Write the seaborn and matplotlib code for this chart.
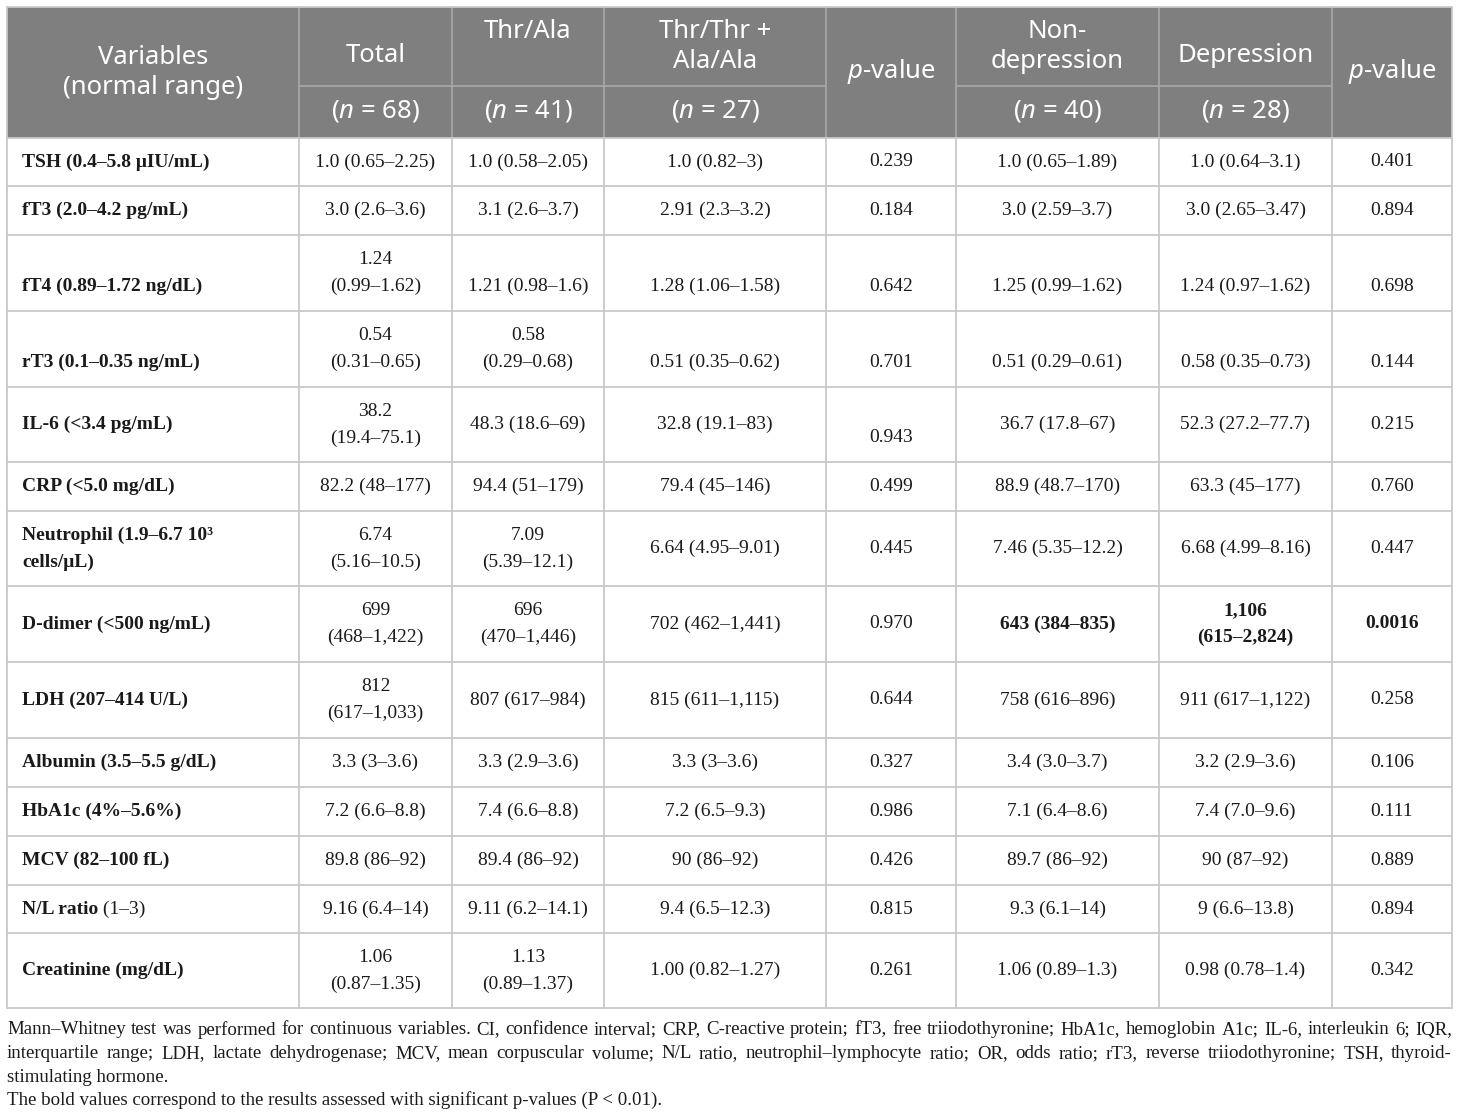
import matplotlib
matplotlib.use("Agg")
import matplotlib.pyplot as plt
import seaborn as sns

# ==========================
#  TABLE DATA
# ==========================
variables = [
    "TSH (0.4–5.8 μIU/mL)", "fT3 (2.0–4.2 pg/mL)", "fT4 (0.89–1.72 ng/dL)",
    "rT3 (0.1–0.35 ng/mL)", "IL-6 (<3.4 pg/mL)", "CRP (<5.0 mg/dL)",
    "Neutrophil (1.9–6.7 10³\ncells/μL)", "D-dimer (<500 ng/mL)", "LDH (207–414 U/L)",
    "Albumin (3.5–5.5 g/dL)", "HbA1c (4%–5.6%)", "MCV (82–100 fL)",
    "N/L ratio", "Creatinine (mg/dL)",
]
total = [
    "1.0 (0.65–2.25)", "3.0 (2.6–3.6)", "1.24\n(0.99–1.62)", "0.54\n(0.31–0.65)",
    "38.2\n(19.4–75.1)", "82.2 (48–177)", "6.74\n(5.16–10.5)", "699\n(468–1,422)",
    "812\n(617–1,033)", "3.3 (3–3.6)", "7.2 (6.6–8.8)", "89.8 (86–92)",
    "9.16 (6.4–14)", "1.06\n(0.87–1.35)",
]
thr_ala = [
    "1.0 (0.58–2.05)", "3.1 (2.6–3.7)", "1.21 (0.98–1.6)", "0.58\n(0.29–0.68)",
    "48.3 (18.6–69)", "94.4 (51–179)", "7.09\n(5.39–12.1)", "696\n(470–1,446)",
    "807 (617–984)", "3.3 (2.9–3.6)", "7.4 (6.6–8.8)", "89.4 (86–92)",
    "9.11 (6.2–14.1)", "1.13\n(0.89–1.37)",
]
thr_thr_ala_ala = [
    "1.0 (0.82–3)", "2.91 (2.3–3.2)", "1.28 (1.06–1.58)", "0.51 (0.35–0.62)",
    "32.8 (19.1–83)", "79.4 (45–146)", "6.64 (4.95–9.01)", "702 (462–1,441)",
    "815 (611–1,115)", "3.3 (3–3.6)", "7.2 (6.5–9.3)", "90 (86–92)",
    "9.4 (6.5–12.3)", "1.00 (0.82–1.27)",
]
p_genotype = [
    "0.239", "0.184", "0.642", "0.701", "0.943", "0.499", "0.445",
    "0.970", "0.644", "0.327", "0.986", "0.426", "0.815", "0.261",
]
non_depression = [
    "1.0 (0.65–1.89)", "3.0 (2.59–3.7)", "1.25 (0.99–1.62)", "0.51 (0.29–0.61)",
    "36.7 (17.8–67)", "88.9 (48.7–170)", "7.46 (5.35–12.2)", "643 (384–835)",
    "758 (616–896)", "3.4 (3.0–3.7)", "7.1 (6.4–8.6)", "89.7 (86–92)",
    "9.3 (6.1–14)", "1.06 (0.89–1.3)",
]
depression = [
    "1.0 (0.64–3.1)", "3.0 (2.65–3.47)", "1.24 (0.97–1.62)", "0.58 (0.35–0.73)",
    "52.3 (27.2–77.7)", "63.3 (45–177)", "6.68 (4.99–8.16)", "1,106\n(615–2,824)",
    "911 (617–1,122)", "3.2 (2.9–3.6)", "7.4 (7.0–9.6)", "90 (87–92)",
    "9 (6.6–13.8)", "0.98 (0.78–1.4)",
]
p_depression = [
    "0.401", "0.894", "0.698", "0.144", "0.215", "0.760", "0.447",
    "0.0016", "0.258", "0.106", "0.111", "0.889", "0.894", "0.342",
]
nl_range = " (1–3)"
group_headers = ["Total", "Thr/Ala", "Thr/Thr +\nAla/Ala", None, "Non-\ndepression", "Depression", None]
group_n = ["68", "41", "27", None, "40", "28", None]

footnote_lines = [
    "Mann–Whitney test was performed for continuous variables. CI, confidence interval; CRP, C-reactive protein; "
    "fT3, free triiodothyronine; HbA1c, hemoglobin A1c; IL-6, interleukin 6; IQR,",
    "interquartile range; LDH, lactate dehydrogenase; MCV, mean corpuscular volume; N/L ratio, "
    "neutrophil–lymphocyte ratio; OR, odds ratio; rT3, reverse triiodothyronine; TSH, thyroid-",
    "stimulating hormone.",
    "The bold values correspond to the results assessed with significant p-values (P < 0.01).",
]

# ==========================
#  LAYOUT / STYLE
# ==========================
sns.set_theme(style="white")
plt.rcParams["font.family"] = ["Liberation Serif", "DejaVu Serif"]
plt.rcParams["mathtext.fontset"] = "custom"
plt.rcParams["mathtext.it"] = "Noto Sans:italic"
plt.rcParams["mathtext.rm"] = "Noto Sans"

SANS = ["Noto Sans", "DejaVu Sans"]
SERIF = ["Liberation Serif", "DejaVu Serif"]
HEAD_BG = "#7f7f7f"
GRID = "#c9c9c9"
TEXT = "#1a1a1a"
BODY_FS = 14.0
HEAD_FS = 18.5
LINE_GAP = 27

col_edges = [7, 299, 452, 604, 826, 956, 1159, 1332, 1452]
row_edges = [138, 186, 235, 311, 387, 462, 511, 586, 662, 738, 787, 836, 885, 933, 1008]
head_top, head_mid = 7, 86

fig = plt.figure(figsize=(14.6, 11.19), dpi=100)
ax = fig.add_axes([0, 0, 1, 1])
ax.set_xlim(0, 1460)
ax.set_ylim(1119, 0)
ax.axis("off")
renderer = fig.canvas.get_renderer()

# header background
ax.fill_between([col_edges[0], col_edges[-1]], head_top, row_edges[0], color=HEAD_BG, lw=0)

# header internal lines
for x in col_edges[1:-1]:
    ax.plot([x, x], [head_top, row_edges[0]], color="#a8a8a8", lw=1.2)
for a, b in [(1, 4), (5, 7)]:
    ax.plot([col_edges[a], col_edges[b]], [head_mid, head_mid], color="#a8a8a8", lw=1.2)

# body grid
for y in row_edges:
    ax.plot([col_edges[0], col_edges[-1]], [y, y], color=GRID, lw=1.3)
for x in col_edges:
    ax.plot([x, x], [row_edges[0], row_edges[-1]], color=GRID, lw=1.3)
ax.plot([col_edges[0], col_edges[-1]], [head_top, head_top], color=GRID, lw=1.3)
ax.plot([col_edges[0]] * 2, [head_top, row_edges[0]], color=GRID, lw=1.3)
ax.plot([col_edges[-1]] * 2, [head_top, row_edges[0]], color=GRID, lw=1.3)


def centre(i):
    return (col_edges[i] + col_edges[i + 1]) / 2


# header text
hkw = dict(color="white", fontsize=HEAD_FS, family=SANS, ha="center", va="center")
ax.text(centre(0), 57, "Variables", **hkw)
ax.text(centre(0), 87, "(normal range)", **hkw)
for j, (name, n) in enumerate(zip(group_headers, group_n)):
    c = centre(j + 1)
    if name is None:
        ax.text(c, 72, "$p$-value", **hkw)
        continue
    lines = name.split("\n")
    if len(lines) == 2:
        ax.text(c, 32, lines[0], **hkw)
        ax.text(c, 61, lines[1], **hkw)
    elif name == "Thr/Ala":
        ax.text(c, 32, name, **hkw)
    else:
        ax.text(c, 55, name, **hkw)
    ax.text(c, 111, "($n$ = %s)" % n, **hkw)

# body text
columns = [total, thr_ala, thr_thr_ala_ala, p_genotype, non_depression, depression, p_depression]
bold_rows = {7: {4, 5, 6}}
low_rows = {2, 3}  # single-line cells sit on the second line


def draw_cell(x, ymid, txt, ha, weight, lower=False):
    lines = txt.split("\n")
    if len(lines) == 2:
        ys = [ymid - LINE_GAP / 2, ymid + LINE_GAP / 2]
    else:
        ys = [ymid + LINE_GAP / 2 if lower else ymid]
    for line, y in zip(lines, ys):
        ax.text(x, y, line, ha=ha, va="center", fontsize=BODY_FS, family=SERIF,
                weight=weight, color=TEXT)


for i, var in enumerate(variables):
    ymid = (row_edges[i] + row_edges[i + 1]) / 2
    lower = i in low_rows
    draw_cell(22, ymid, var, "left", "bold", lower)
    if var == "N/L ratio":
        t = ax.text(22, ymid, var, ha="left", va="center", fontsize=BODY_FS, family=SERIF,
                    weight="bold", alpha=0)
        w = t.get_window_extent(renderer).width
        ax.text(22 + w, ymid, nl_range, ha="left", va="center", fontsize=BODY_FS,
                family=SERIF, color=TEXT)
    for j, col in enumerate(columns):
        weight = "bold" if j in bold_rows.get(i, set()) else "normal"
        low = lower or (i == 4 and j == 3)
        draw_cell(centre(j + 1), ymid, col[i], "center", weight, low)


# footnote (justified where the original is)
def justify(words, y, x0, x1, fs):
    arts = [ax.text(0, y, w, fontsize=fs, family=SERIF, va="center", ha="left", color=TEXT)
            for w in words]
    widths = [a.get_window_extent(renderer).width for a in arts]
    gap = (x1 - x0 - sum(widths)) / (len(words) - 1)
    x = x0
    for a, w in zip(arts, widths):
        a.set_x(x)
        x += w + gap


# size the footnote so its first line nearly fills the table width
probe = ax.text(0, 0, footnote_lines[0], fontsize=12, family=SERIF, alpha=0)
FOOT_FS = 12 * 1425 / probe.get_window_extent(renderer).width
probe.remove()

foot_y = [1030, 1054, 1077, 1100]
for k, (line, y) in enumerate(zip(footnote_lines, foot_y)):
    if k < 2:
        justify(line.split(" "), y, 7, 1452, FOOT_FS)
    else:
        ax.text(7, y, line, fontsize=FOOT_FS, family=SERIF, va="center", ha="left", color=TEXT)

plt.savefig("out.png", dpi=100)
print("Saved: out.png")
